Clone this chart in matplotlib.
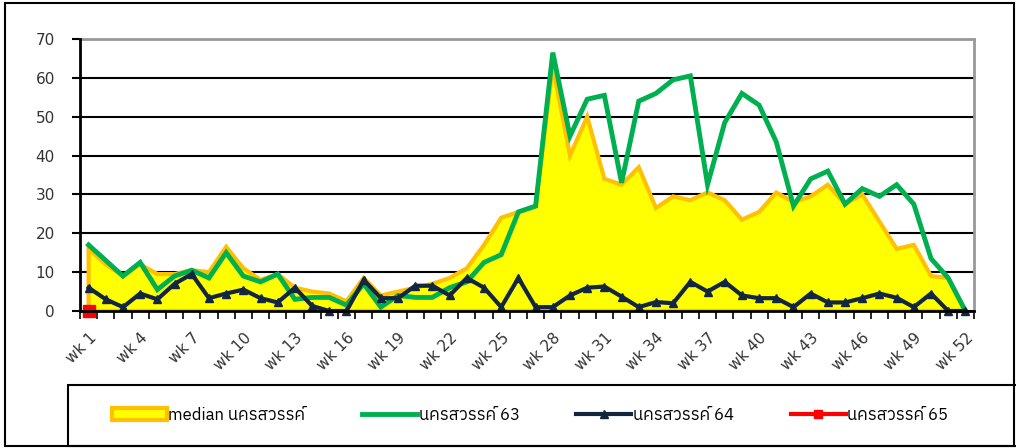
import numpy as np
import matplotlib
matplotlib.use('Agg')
import matplotlib.pyplot as plt
from matplotlib import font_manager
from matplotlib.ft2font import FT2Font
from matplotlib.patches import Rectangle, Patch
from matplotlib.lines import Line2D

weeks = ['wk %d' % i for i in range(1, 53)]

median = [16, 12, 9, 12, 9.5, 9.5, 10.5, 10, 16.5, 11, 8, 9.5, 6, 5, 4.5, 2.5, 8.5, 4, 5, 6,
          7, 8.5, 11, 17, 24, 25.5, 27, 63, 40, 50, 34, 32.5, 37, 26.5, 29.5, 28.5, 30.5, 28.5, 23.5, 25.5,
          30.5, 28, 29.5, 32.5, 27.5, 30, 23, 16, 17, 9, 8.5, 0]
nakhon63 = [17, 13, 9, 12.5, 5.5, 9, 10.5, 8.5, 15, 9, 7.5, 9.5, 3, 3.5, 3.5, 1.5, 7, 1, 4, 3.5,
            3.5, 6, 7.5, 12.5, 14.5, 25.5, 27, 66.5, 45, 54.5, 55.5, 33, 54, 56, 59.5, 60.5, 32.5, 48.5, 56, 53,
            43.5, 27, 34, 36, 27.5, 31.5, 29.5, 32.5, 27.5, 13.5, 8.5, 0]
nakhon64 = [6, 3, 1, 4.5, 3, 7, 9.5, 3.3, 4.5, 5.5, 3.3, 2.2, 6, 1.3, 0, 0, 8, 3.3, 3.3, 6.5,
            6.5, 4, 8.5, 6, 1, 8.5, 1, 1, 4, 6, 6.3, 3.7, 1, 2.3, 2, 7.5, 5, 7.5, 4, 3.3,
            3.3, 1, 4.5, 2.2, 2.2, 3.3, 4.5, 3.4, 1, 4.5, 0, 0]
nakhon65 = [0] + [np.nan] * 51

labels = ['median นครสวรรค์', 'นครสวรรค์ 63', 'นครสวรรค์ 64', 'นครสวรรค์ 65']


def thai_font():
    fonts = sorted(font_manager.fontManager.ttflist, key=lambda f: 'Thai' not in f.name)
    for f in fonts:
        try:
            if FT2Font(f.fname).get_char_index(0x0E19):
                return f.name
        except Exception:
            pass
    return None


th = thai_font()
fam = [th, 'DejaVu Sans'] if th else ['DejaVu Sans']

x = np.arange(len(weeks))

fig = plt.figure(figsize=(10.16, 4.48), dpi=100)
ax = fig.add_axes([80 / 1016, 1 - 311 / 448, 894 / 1016, 272 / 448])

# median area
ax.fill(np.concatenate([x, [x[-1], x[0]]]), np.concatenate([median, [0, 0]]),
        facecolor='#FFFF00', edgecolor='#FFC000', lw=3, zorder=2, joinstyle='miter')
ax.plot(x, nakhon63, color='#00B050', lw=3.5, zorder=3, solid_joinstyle='miter')
ax.plot(x, nakhon64, color='#13263F', lw=3, marker='^', ms=6, zorder=4, clip_on=False,
        solid_joinstyle='miter')
ax.plot(x, nakhon65, color='#FF0000', lw=3, marker='s', ms=8, zorder=5, clip_on=False)

ax.set_xlim(-0.5, len(weeks) - 0.5)
ax.set_ylim(0, 70)
ax.set_yticks(range(0, 71, 10))
ax.yaxis.grid(True, color='black', lw=1.5)
ax.set_axisbelow(True)
ax.tick_params(axis='y', length=6, width=1.5, pad=12, labelsize=11, colors='black')
for t in ax.get_yticklabels():
    t.set_color('#333333')

ax.set_xticks(x[::3])
ax.set_xticklabels(weeks[::3], rotation=45, ha='right', rotation_mode='anchor',
                   fontsize=11, color='#333333')
ax.set_xticks(np.arange(-0.5, len(weeks)), minor=True)
ax.tick_params(axis='x', which='major', length=0, pad=14)
ax.tick_params(axis='x', which='minor', length=6, width=1.2)

for s in ['left', 'bottom']:
    ax.spines[s].set_linewidth(2)
    ax.spines[s].set_color('black')
    ax.spines[s].set_zorder(6)
for s in ['top', 'right']:
    ax.spines[s].set_linewidth(2)
    ax.spines[s].set_color('#999999')

# outer chart border and legend box
fig.patches.append(Rectangle((5 / 1016, 2 / 448), 1009 / 1016, 443 / 448, fill=False,
                             lw=1.5, ec='black', transform=fig.transFigure))
fig.patches.append(Rectangle((68 / 1016, 2 / 448), 960 / 1016, 61 / 448, fill=False,
                             lw=1.5, ec='black', transform=fig.transFigure))

handles = [
    Patch(facecolor='#FFFF00', edgecolor='#FFC000', lw=3),
    Line2D([], [], color='#00B050', lw=3.5),
    Line2D([], [], color='#13263F', lw=3, marker='^', ms=6),
    Line2D([], [], color='#FF0000', lw=3, marker='s', ms=6),
]
fig.legend(handles, labels, loc='center', bbox_to_anchor=(530 / 1016, 1 - 415 / 448), ncol=4,
           frameon=False, prop={'family': fam, 'size': 12}, handlelength=3.3, handletextpad=0.1,
           columnspacing=3.4)

fig.savefig('out.png', dpi=100)
